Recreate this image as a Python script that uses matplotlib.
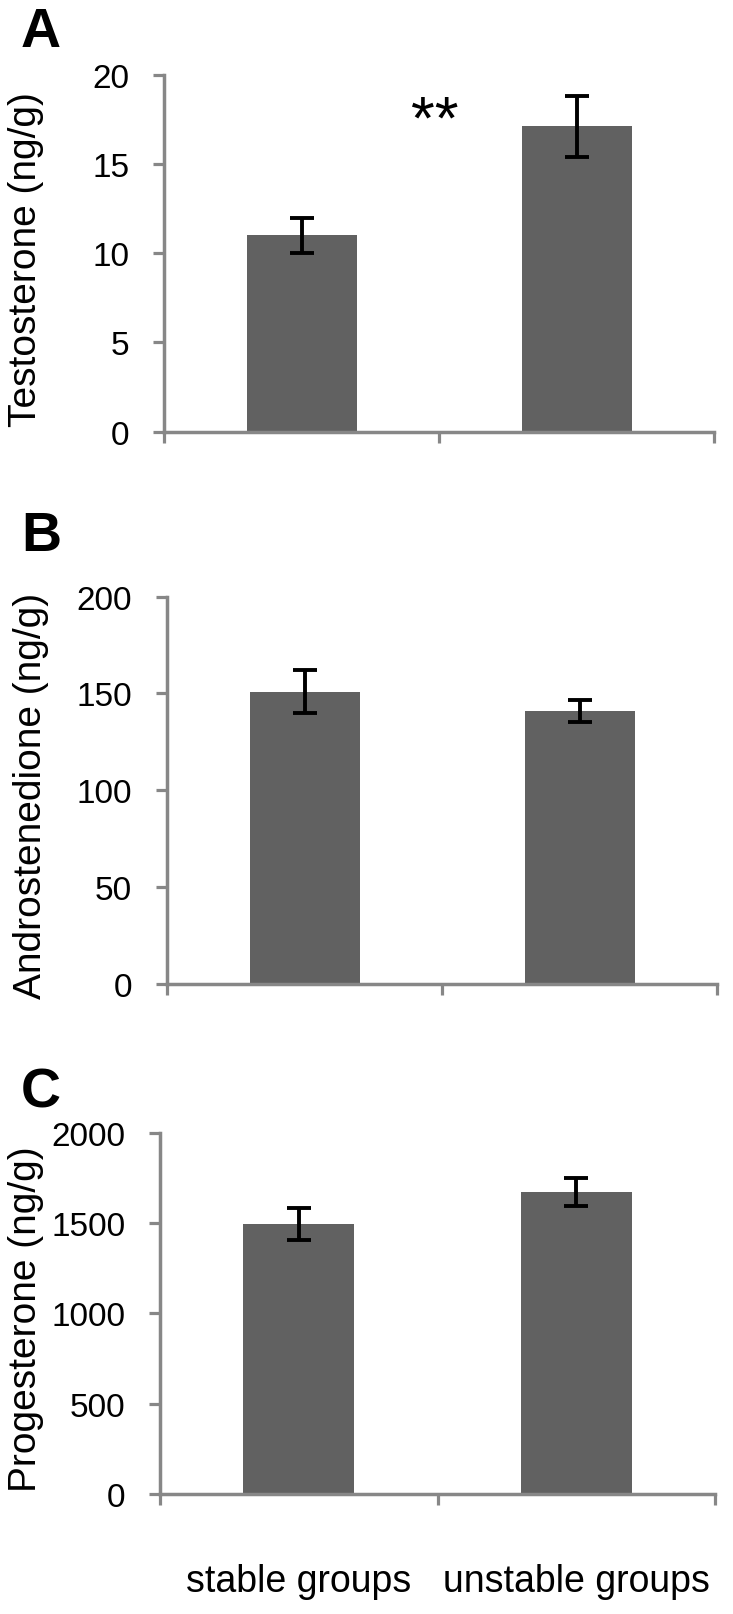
import matplotlib
matplotlib.use('Agg')
import matplotlib.pyplot as plt
import numpy as np

plt.rcParams['font.family'] = ['Liberation Sans', 'DejaVu Sans']

# Data
GROUPS = ['stable groups', 'unstable groups']

TESTO = [11.0, 17.1]
TESTO_ERR = [1.0, 1.7]

ANDRO = [151, 141]
ANDRO_ERR = [11, 5.5]

PROG = [1495, 1674]
PROG_ERR = [88, 78]

BAR_COLOR = '#616161'
AXIS_COLOR = '#878787'
W, H = 733, 1615


def fig_xy(px, py):
    """pixel (from top-left) -> figure fraction"""
    return px / W, 1 - py / H


def make_panel(fig, box, values, errors, ymax, step, ylabel, letter, letter_pos, label_x, show_cats=False):
    left, top, right, bottom = box
    ax = fig.add_axes([left / W, 1 - bottom / H, (right - left) / W, (bottom - top) / H])

    x = np.arange(len(values))
    ax.bar(x, values, width=0.4, color=BAR_COLOR, zorder=2)
    ax.errorbar(x, values, yerr=errors, fmt='none', ecolor='black',
                elinewidth=2.8, capsize=8.5, capthick=2.8, zorder=3)

    ax.set_xlim(-0.5, 1.5)
    ax.set_ylim(0, ymax)
    ax.set_yticks(np.arange(0, ymax + step / 2, step))

    for side in ['top', 'right']:
        ax.spines[side].set_visible(False)
    for side in ['left', 'bottom']:
        ax.spines[side].set_color(AXIS_COLOR)
        ax.spines[side].set_linewidth(2.5)
        ax.spines[side].set_capstyle('projecting')

    ax.tick_params(axis='y', which='major', direction='out', length=8, width=2.3,
                   color=AXIS_COLOR, labelsize=24, pad=17)
    ax.set_xticks([-0.5, 0.5, 1.5])
    ax.set_xticklabels([])
    ax.tick_params(axis='x', which='major', direction='out', length=8, width=2.3,
                   color=AXIS_COLOR)
    if show_cats:
        ax.set_xticks([0, 1], minor=True)
        ax.set_xticklabels(GROUPS, minor=True)
        ax.tick_params(axis='x', which='minor', length=0, labelsize=27, pad=50)

    cx, cy = fig_xy(label_x, (top + bottom) / 2 + 5)
    fig.text(cx, cy, ylabel, rotation=90, ha='center', va='center', fontsize=28)

    lx, ly = fig_xy(*letter_pos)
    fig.text(lx, ly, letter, ha='left', va='top', fontsize=40, fontweight='bold')
    return ax


def main():
    fig = plt.figure(figsize=(W / 100, H / 100), dpi=100)

    ax_a = make_panel(fig, (164, 75.7, 714, 432.7), TESTO, TESTO_ERR, 20, 5,
                      'Testosterone (ng/g)', 'A', (21, 7), 26)
    ax_a.text(0.485, 17.35, '**', ha='center', va='center', fontsize=44)

    make_panel(fig, (167, 597.7, 717, 984.7), ANDRO, ANDRO_ERR, 200, 50,
               'Androstenedione (ng/g)', 'B', (21, 511), 31)

    make_panel(fig, (160, 1133.7, 715, 1495), PROG, PROG_ERR, 2000, 500,
               'Progesterone (ng/g)', 'C', (21, 1067), 26, show_cats=True)

    fig.savefig('out.png', dpi=100)
    plt.close(fig)


if __name__ == '__main__':
    main()
